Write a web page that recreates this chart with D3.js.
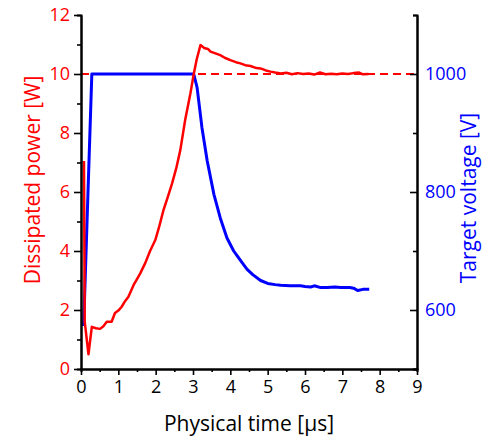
<!DOCTYPE html>
<html>
<head>
<meta charset="utf-8">
<script src="https://cdn.jsdelivr.net/npm/d3@7"></script>
<style>
  body { margin: 0; background: #fff; }
  text { font-family: "Open Sans", sans-serif; }
</style>
</head>
<body>
<div id="chart"></div>
<script>
// power curve (left axis, W)
const powerTime = [0.08, 0.1, 0.2, 0.29, 0.4, 0.51, 0.6, 0.69, 0.82, 0.91, 1.0, 1.09, 1.18, 1.27, 1.41, 1.5, 1.59, 1.72,
  1.85, 1.99, 2.1, 2.21, 2.33, 2.44, 2.55, 2.66, 2.79, 2.93, 3.02, 3.1, 3.2, 3.3, 3.4, 3.47, 3.6, 3.73, 3.85,
  4.0, 4.15, 4.27, 4.4, 4.54, 4.7, 4.81, 4.95, 5.08, 5.2, 5.35, 5.5, 5.65, 5.8, 5.95, 6.1, 6.25, 6.4, 6.55,
  6.7, 6.85, 7.0, 7.15, 7.3, 7.45, 7.55, 7.7];
const powerValues = [7.05, 1.6, 0.5, 1.43, 1.38, 1.36, 1.45, 1.6, 1.6, 1.9, 1.98, 2.11, 2.3, 2.45, 2.85, 3.05, 3.25, 3.59,
  4.0, 4.37, 4.85, 5.39, 5.85, 6.29, 6.8, 7.42, 8.44, 9.34, 10.0, 10.5, 10.98, 10.88, 10.85, 10.76, 10.7, 10.64, 10.55,
  10.47, 10.4, 10.36, 10.3, 10.27, 10.2, 10.19, 10.12, 10.08, 10.05, 10.02, 10.04, 9.99, 10.03, 10.0, 10.02, 9.98, 10.05, 9.99,
  10.01, 9.99, 10.02, 10.0, 10.03, 10.05, 9.99, 10.0];

// target voltage curve (right axis, V)
const voltTime = [0.07, 0.09, 0.29, 1.0, 2.0, 3.02, 3.11, 3.24, 3.38, 3.56, 3.73, 3.91, 4.09, 4.18, 4.32, 4.45, 4.6, 4.81,
  5.0, 5.2, 5.35, 5.6, 5.88, 6.0, 6.15, 6.25, 6.42, 6.6, 6.8, 6.96, 7.2, 7.3, 7.41, 7.55, 7.72];
const voltValues = [573, 610, 1000, 1000, 1000, 1000, 977, 909, 853, 796, 756, 722, 700, 692, 680, 669, 660, 650,
  645, 643, 642, 641, 641, 640, 639, 641, 638, 638, 639, 638, 638, 637, 633, 635, 635];

const setpoint = 10;

const xTicks = [0, 1, 2, 3, 4, 5, 6, 7, 8, 9];
const xMinor = [0.5, 1.5, 2.5, 3.5, 4.5, 5.5, 6.5, 7.5, 8.5];
const pTicks = [0, 2, 4, 6, 8, 10, 12];
const pMinor = [1, 3, 5, 7, 9, 11];
const vTicks = [600, 800, 1000];
const vMinor = [500, 700, 900, 1100];

const width = 483, height = 437;
const margin = {top: 15, right: 66, bottom: 68, left: 81};

const svg = d3.select("#chart").append("svg")
  .attr("width", width)
  .attr("height", height);

const x = d3.scaleLinear().domain([0, 9]).range([margin.left, width - margin.right]);
const yP = d3.scaleLinear().domain([0, 12]).range([height - margin.bottom, margin.top]);
const yV = d3.scaleLinear().domain([500, 1100]).range([height - margin.bottom, margin.top]);

// dashed setpoint line
svg.append("line")
  .attr("x1", x(0)).attr("x2", x(9))
  .attr("y1", yP(setpoint)).attr("y2", yP(setpoint))
  .attr("stroke", "#ff0000")
  .attr("stroke-width", 2)
  .attr("stroke-dasharray", "8,5");

const voltLine = d3.line().x(d => x(d[0])).y(d => yV(d[1]));
svg.append("path")
  .datum(voltTime.map((t, i) => [t, voltValues[i]]))
  .attr("fill", "none")
  .attr("stroke", "#0000ff")
  .attr("stroke-width", 3)
  .attr("stroke-linejoin", "round")
  .attr("d", voltLine);

const powerLine = d3.line().x(d => x(d[0])).y(d => yP(d[1]));
svg.append("path")
  .datum(powerTime.map((t, i) => [t, powerValues[i]]))
  .attr("fill", "none")
  .attr("stroke", "#ff0000")
  .attr("stroke-width", 2.5)
  .attr("stroke-linejoin", "round")
  .attr("d", powerLine);

function styleAxis(g, color) {
  g.select(".domain").attr("stroke", "#000").attr("stroke-width", 2);
  g.selectAll(".tick line").attr("stroke", "#000").attr("stroke-width", 1.6);
  g.selectAll(".tick text")
    .attr("fill", color)
    .style("font-size", "18px")
    .style("font-family", "'Open Sans', sans-serif");
}

// bottom axis
svg.append("g")
  .attr("transform", `translate(0,${height - margin.bottom})`)
  .call(d3.axisBottom(x).tickValues(xMinor).tickSize(3).tickFormat(""))
  .call(g => styleAxis(g, "#000"));
svg.append("g")
  .attr("transform", `translate(0,${height - margin.bottom})`)
  .call(d3.axisBottom(x).tickValues(xTicks).tickSize(6).tickSizeOuter(0).tickPadding(5).tickFormat(d3.format("d")))
  .call(g => styleAxis(g, "#000"));

// left axis
svg.append("g")
  .attr("transform", `translate(${margin.left},0)`)
  .call(d3.axisLeft(yP).tickValues(pMinor).tickSize(4).tickFormat(""))
  .call(g => styleAxis(g, "#ff0000"));
svg.append("g")
  .attr("transform", `translate(${margin.left},0)`)
  .call(d3.axisLeft(yP).tickValues(pTicks).tickSize(7).tickSizeOuter(0).tickPadding(4).tickFormat(d3.format("d")))
  .call(g => styleAxis(g, "#ff0000"));

// right axis, ticks point inward
svg.append("g")
  .attr("transform", `translate(${width - margin.right},0)`)
  .call(d3.axisRight(yV).tickValues(vMinor).tickSize(-4).tickFormat(""))
  .call(g => styleAxis(g, "#0000ff"));
svg.append("g")
  .attr("transform", `translate(${width - margin.right},0)`)
  .call(d3.axisRight(yV).tickValues(vTicks).tickSize(-7).tickSizeOuter(0).tickPadding(8).tickFormat(d3.format("d")))
  .call(g => styleAxis(g, "#0000ff"));

// axis titles
svg.append("text")
  .attr("x", (margin.left + width - margin.right) / 2)
  .attr("y", 431)
  .attr("text-anchor", "middle")
  .attr("fill", "#000")
  .style("font-size", "21px")
  .text("Physical time [µs]");

svg.append("text")
  .attr("transform", `translate(40,180) rotate(-90)`)
  .attr("text-anchor", "middle")
  .attr("fill", "#ff0000")
  .style("font-size", "21px")
  .text("Dissipated power [W]");

svg.append("text")
  .attr("transform", `translate(476,198) rotate(-90)`)
  .attr("text-anchor", "middle")
  .attr("fill", "#0000ff")
  .style("font-size", "21px")
  .text("Target voltage [V]");
</script>
</body>
</html>
